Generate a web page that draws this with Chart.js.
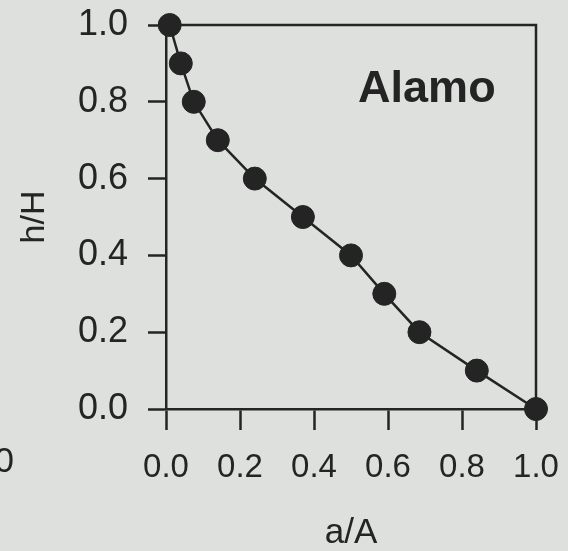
<!DOCTYPE html>
<html>
<head>
<meta charset="utf-8">
<title>Alamo h/H vs a/A</title>
<script src="https://cdn.jsdelivr.net/npm/chart.js@4/dist/chart.umd.min.js"></script>
<style>
    html, body { margin: 0; padding: 0; background: #dee0de; overflow: hidden; }
    canvas { display: block; }
</style>
</head>
<body>
<canvas id="chart" width="568" height="551"></canvas>
<script>
// ==================== DATA ====================

const areaRatio = [0.01, 0.04, 0.075, 0.14, 0.24, 0.37, 0.50, 0.59, 0.685, 0.84, 1.0];   // a/A
const heightRatio = [1.0, 0.9, 0.8, 0.7, 0.6, 0.5, 0.4, 0.3, 0.2, 0.1, 0.0];             // h/H
const tickValues = [0.0, 0.2, 0.4, 0.6, 0.8, 1.0];
const siteName = 'Alamo';
const xTitle = 'a/A';
const yTitle = 'h/H';

const ink = '#242424';
const fontFamily = '"Liberation Sans", Arial, Helvetica, sans-serif';

// ==================== PLUGINS ====================

// top and right frame lines, panel label
const framePlugin = {
    id: 'frame',
    afterDraw(chart) {
        const { ctx, chartArea, scales } = chart;
        ctx.save();
        ctx.strokeStyle = ink;
        ctx.lineWidth = 2.5;
        ctx.beginPath();
        ctx.moveTo(chartArea.left, chartArea.top);
        ctx.lineTo(chartArea.right, chartArea.top);
        ctx.lineTo(chartArea.right, chartArea.bottom);
        ctx.stroke();

        // panel label
        ctx.fillStyle = ink;
        ctx.font = 'bold 45px ' + fontFamily;
        ctx.textAlign = 'center';
        ctx.textBaseline = 'alphabetic';
        ctx.fillText(siteName, scales.x.getPixelForValue(0.705), scales.y.getPixelForValue(0.8));

        // clipped label of the neighbouring panel
        ctx.font = '35px ' + fontFamily;
        ctx.textAlign = 'right';
        ctx.textBaseline = 'middle';
        ctx.fillText('1.0', 14, 462);
        ctx.restore();
    }
};

// no extra room for overhanging tick labels
function noLabelPadding(scale) {
    scale.paddingTop = 0;
    scale.paddingBottom = 0;
    scale.paddingLeft = 0;
    scale.paddingRight = 0;
}

// ==================== CHART ====================

const points = areaRatio.map((a, i) => ({ x: a, y: heightRatio[i] }));

new Chart(document.getElementById('chart').getContext('2d'), {
    type: 'scatter',
    data: {
        datasets: [{
            data: points,
            showLine: true,
            borderColor: ink,
            borderWidth: 2.5,
            backgroundColor: ink,
            pointBackgroundColor: ink,
            pointBorderColor: ink,
            pointRadius: 11.5,
            pointBorderWidth: 1,
            clip: false
        }]
    },
    options: {
        responsive: false,
        animation: false,
        devicePixelRatio: 1,
        layout: {
            padding: { top: 25, right: 32, left: 0, bottom: 0 }
        },
        plugins: {
            legend: { display: false },
            tooltip: { enabled: false }
        },
        scales: {
            x: {
                type: 'linear',
                min: 0,
                max: 1,
                afterFit(scale) { scale.height = 142; noLabelPadding(scale); },
                afterBuildTicks(scale) { scale.ticks = tickValues.map(v => ({ value: v })); },
                border: { display: true, color: ink, width: 2.5 },
                grid: {
                    drawOnChartArea: false,
                    drawTicks: true,
                    tickLength: 21,
                    tickColor: ink,
                    tickWidth: 2.5
                },
                ticks: {
                    color: ink,
                    padding: 18,
                    maxRotation: 0,
                    font: { family: fontFamily, size: 33 },
                    callback: v => v.toFixed(1)
                },
                title: {
                    display: true,
                    text: xTitle,
                    color: ink,
                    padding: { top: 0, bottom: 0 },
                    font: { family: fontFamily, size: 35, lineHeight: 1 }
                }
            },
            y: {
                type: 'linear',
                min: 0,
                max: 1,
                afterFit(scale) { scale.width = 166; noLabelPadding(scale); },
                afterBuildTicks(scale) { scale.ticks = tickValues.map(v => ({ value: v })); },
                border: { display: true, color: ink, width: 2.5 },
                grid: {
                    drawOnChartArea: false,
                    drawTicks: true,
                    tickLength: 18,
                    tickColor: ink,
                    tickWidth: 2.5
                },
                ticks: {
                    color: ink,
                    padding: 20,
                    font: { family: fontFamily, size: 36 },
                    callback: v => v.toFixed(1)
                },
                title: {
                    display: true,
                    text: yTitle,
                    color: ink,
                    padding: { top: 18, bottom: 0 },
                    font: { family: fontFamily, size: 34, lineHeight: 1 }
                }
            }
        }
    },
    plugins: [framePlugin]
});
</script>
</body>
</html>
